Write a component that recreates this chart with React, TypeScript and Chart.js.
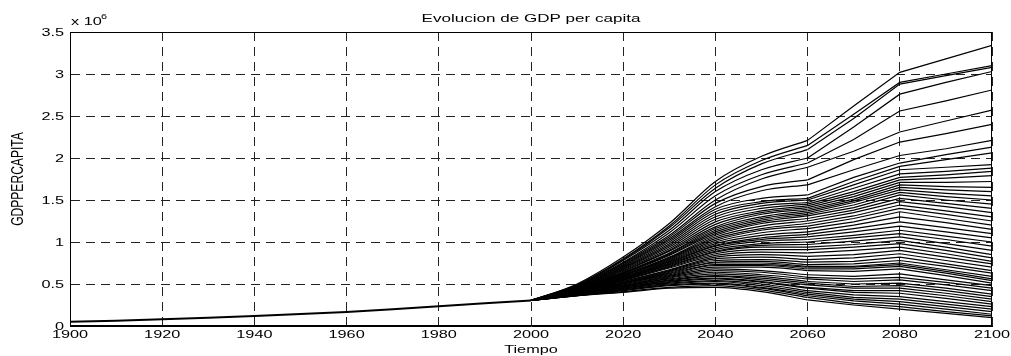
import React, { useEffect, useRef } from "react";
import { Chart, registerables } from "chart.js";

Chart.register(...registerables);

// ---------- data (GDP per capita, in millions) ----------
const histYears = [1900, 1910, 1920, 1930, 1940, 1950, 1960, 1970, 1980, 1990, 2000];
const histGdp = [0.05, 0.062, 0.08, 0.098, 0.12, 0.143, 0.168, 0.198, 0.235, 0.27, 0.305];

const projYears = [2000, 2010, 2020, 2030, 2040, 2050, 2060, 2070, 2080, 2090, 2100];

const upperPaths = [
  [0.305, 0.50, 0.82, 1.22, 1.72, 2.02, 2.21, 2.62, 3.02, 3.18, 3.34],
  [0.305, 0.49, 0.80, 1.19, 1.68, 1.97, 2.15, 2.52, 2.90, 3.00, 3.10],
  [0.305, 0.49, 0.79, 1.17, 1.64, 1.93, 2.10, 2.47, 2.88, 2.98, 3.08],
  [0.305, 0.48, 0.78, 1.14, 1.60, 1.86, 2.00, 2.37, 2.76, 2.90, 3.03],
  [0.305, 0.48, 0.76, 1.11, 1.55, 1.80, 1.94, 2.22, 2.56, 2.68, 2.81],
  [0.305, 0.47, 0.75, 1.08, 1.50, 1.75, 1.89, 2.08, 2.31, 2.44, 2.57],
  [0.305, 0.47, 0.74, 1.06, 1.46, 1.66, 1.74, 1.98, 2.19, 2.29, 2.40],
  [0.305, 0.46, 0.73, 1.04, 1.42, 1.61, 1.68, 1.86, 2.03, 2.11, 2.21],
  [0.305, 0.46, 0.72, 1.02, 1.39, 1.52, 1.56, 1.77, 1.94, 2.04, 2.13],
  [0.305, 0.46, 0.71, 1.00, 1.36, 1.48, 1.52, 1.72, 1.90, 1.98, 2.06],
  [0.305, 0.45, 0.70, 0.98, 1.33, 1.46, 1.50, 1.68, 1.86, 1.89, 1.92],
  [0.305, 0.45, 0.69, 0.96, 1.30, 1.43, 1.47, 1.64, 1.81, 1.84, 1.88],
];

const middlePaths = [
  [0.305, 0.45, 0.68, 0.94, 1.27, 1.40, 1.45, 1.60, 1.77, 1.80, 1.84],
  [0.305, 0.44, 0.67, 0.92, 1.24, 1.37, 1.43, 1.57, 1.74, 1.76, 1.79],
  [0.305, 0.44, 0.66, 0.90, 1.21, 1.35, 1.41, 1.54, 1.71, 1.71, 1.72],
  [0.305, 0.44, 0.65, 0.89, 1.18, 1.33, 1.39, 1.51, 1.68, 1.66, 1.65],
  [0.305, 0.44, 0.64, 0.87, 1.16, 1.30, 1.37, 1.49, 1.65, 1.62, 1.60],
  [0.305, 0.43, 0.63, 0.86, 1.14, 1.28, 1.35, 1.47, 1.62, 1.58, 1.55],
  [0.305, 0.43, 0.63, 0.85, 1.12, 1.26, 1.33, 1.44, 1.59, 1.54, 1.50],
  [0.305, 0.43, 0.62, 0.84, 1.10, 1.24, 1.31, 1.41, 1.56, 1.50, 1.45],
  [0.305, 0.43, 0.61, 0.82, 1.08, 1.22, 1.28, 1.38, 1.52, 1.46, 1.40],
  [0.305, 0.43, 0.61, 0.81, 1.06, 1.19, 1.25, 1.35, 1.48, 1.42, 1.35],
  [0.305, 0.42, 0.60, 0.80, 1.04, 1.16, 1.22, 1.31, 1.44, 1.37, 1.30],
  [0.305, 0.42, 0.60, 0.79, 1.02, 1.14, 1.19, 1.28, 1.40, 1.33, 1.25],
  [0.305, 0.42, 0.59, 0.78, 1.00, 1.11, 1.16, 1.24, 1.36, 1.28, 1.20],
  [0.305, 0.42, 0.58, 0.77, 0.98, 1.08, 1.12, 1.20, 1.30, 1.23, 1.15],
  [0.305, 0.42, 0.58, 0.76, 0.96, 1.05, 1.09, 1.16, 1.24, 1.17, 1.10],
  [0.305, 0.41, 0.57, 0.75, 0.95, 1.03, 1.06, 1.12, 1.19, 1.12, 1.05],
  [0.305, 0.41, 0.57, 0.74, 0.93, 1.01, 1.03, 1.08, 1.14, 1.07, 1.00],
  [0.305, 0.41, 0.56, 0.73, 0.91, 0.98, 1.00, 1.05, 1.10, 1.03, 0.95],
  [0.305, 0.41, 0.56, 0.72, 0.89, 0.96, 0.97, 1.01, 1.06, 0.98, 0.90],
  [0.305, 0.41, 0.55, 0.71, 0.88, 0.94, 0.94, 0.97, 1.02, 0.94, 0.85],
  [0.305, 0.40, 0.55, 0.70, 0.86, 0.91, 0.91, 0.94, 0.98, 0.90, 0.81],
  [0.305, 0.40, 0.54, 0.69, 0.84, 0.88, 0.87, 0.90, 0.94, 0.86, 0.77],
];

const lowerPaths = [
  [0.305, 0.40, 0.53, 0.67, 0.82, 0.85, 0.83, 0.85, 0.90, 0.82, 0.74],
  [0.305, 0.40, 0.53, 0.66, 0.80, 0.82, 0.79, 0.81, 0.86, 0.78, 0.70],
  [0.305, 0.40, 0.52, 0.65, 0.78, 0.79, 0.76, 0.77, 0.82, 0.74, 0.66],
  [0.305, 0.39, 0.51, 0.64, 0.76, 0.77, 0.73, 0.74, 0.78, 0.71, 0.63],
  [0.305, 0.39, 0.51, 0.63, 0.75, 0.75, 0.71, 0.71, 0.75, 0.67, 0.59],
  [0.305, 0.39, 0.50, 0.62, 0.73, 0.73, 0.70, 0.70, 0.73, 0.65, 0.56],
  [0.305, 0.39, 0.50, 0.61, 0.72, 0.72, 0.68, 0.68, 0.71, 0.63, 0.54],
  [0.305, 0.39, 0.49, 0.60, 0.70, 0.70, 0.66, 0.65, 0.68, 0.60, 0.51],
  [0.305, 0.38, 0.48, 0.59, 0.68, 0.66, 0.61, 0.59, 0.62, 0.55, 0.48],
  [0.305, 0.38, 0.48, 0.58, 0.66, 0.64, 0.58, 0.56, 0.58, 0.52, 0.45],
  [0.305, 0.38, 0.47, 0.57, 0.64, 0.61, 0.56, 0.53, 0.55, 0.49, 0.42],
  [0.305, 0.38, 0.47, 0.56, 0.62, 0.59, 0.53, 0.50, 0.51, 0.45, 0.38],
  [0.305, 0.38, 0.46, 0.55, 0.60, 0.57, 0.51, 0.47, 0.48, 0.42, 0.35],
  [0.305, 0.37, 0.46, 0.54, 0.59, 0.55, 0.49, 0.45, 0.45, 0.39, 0.32],
  [0.305, 0.37, 0.45, 0.53, 0.57, 0.53, 0.46, 0.42, 0.42, 0.36, 0.29],
  [0.305, 0.37, 0.45, 0.52, 0.56, 0.52, 0.45, 0.40, 0.39, 0.33, 0.26],
  [0.305, 0.37, 0.44, 0.51, 0.54, 0.50, 0.42, 0.37, 0.35, 0.29, 0.23],
  [0.305, 0.37, 0.43, 0.50, 0.53, 0.48, 0.40, 0.34, 0.32, 0.26, 0.20],
  [0.305, 0.36, 0.43, 0.49, 0.51, 0.46, 0.38, 0.32, 0.29, 0.23, 0.17],
  [0.305, 0.36, 0.42, 0.48, 0.50, 0.45, 0.36, 0.30, 0.26, 0.20, 0.14],
  [0.305, 0.36, 0.41, 0.46, 0.48, 0.43, 0.34, 0.27, 0.23, 0.17, 0.12],
  [0.305, 0.36, 0.40, 0.45, 0.46, 0.41, 0.31, 0.25, 0.20, 0.15, 0.10],
];

const xTickValues = [1900, 1920, 1940, 1960, 1980, 2000, 2020, 2040, 2060, 2080, 2100];
const xTickLabels = ["1900", "1920", "1940", "1960", "1980", "2000", "2020", "2040", "2060", "2080", "2100"];
const yTickValues = [0, 0.5, 1, 1.5, 2, 2.5, 3, 3.5];
const yTickLabels = ["0", "0.5", "1", "1.5", "2", "2.5", "3", "3.5"];

const titleText = "Evolucion de GDP per capita";
const xLabel = "Tiempo";
const yLabel = "GDPPERCAPITA";

// ---------- styling ----------
const FAMILY = '"Liberation Sans", Arial, Helvetica, sans-serif';
const SX = 1.55; // horizontal stretch of the lettering

const matlabText = {
  id: "matlabText",
  afterDraw(chart: any) {
    const { ctx, chartArea: a, scales } = chart;
    const x = scales.x;
    const y = scales.y;
    ctx.save();
    // box
    ctx.setLineDash([]);
    ctx.strokeStyle = "#000";
    ctx.lineWidth = 1;
    const L = Math.round(a.left) + 0.5;
    const T = Math.round(a.top) + 0.5;
    const R = Math.round(a.right) - 0.5;
    const B = Math.round(a.bottom) - 0.5;
    ctx.strokeRect(L, T, R - L, B - T);

    ctx.fillStyle = "#000";
    const draw = (text: string, px: number, py: number, size: number, align: CanvasTextAlign) => {
      ctx.save();
      ctx.translate(px, py);
      ctx.scale(SX, 1);
      ctx.font = `${size}px ${FAMILY}`;
      ctx.textAlign = align;
      ctx.textBaseline = "alphabetic";
      ctx.fillText(text, 0, 0);
      ctx.restore();
    };
    xTickValues.forEach((v, i) => {
      draw(xTickLabels[i], x.getPixelForValue(v), a.bottom + 12, 10.5, "center");
    });
    yTickValues.forEach((v, i) => {
      draw(yTickLabels[i], a.left - 6, y.getPixelForValue(v) + 3.8, 10.5, "right");
    });
    // title
    draw(titleText, (a.left + a.right) / 2, 22, 11, "center");
    // x label
    draw(xLabel, (a.left + a.right) / 2, 353, 10.5, "center");
    // exponent
    draw("x 10", a.left + 1, 25, 10.5, "left");
    draw("6", a.left + 31, 18.5, 7, "left");
    // y label (rotated)
    ctx.save();
    ctx.translate(23, (a.top + a.bottom) / 2);
    ctx.scale(SX, 1.15);
    ctx.rotate(-Math.PI / 2);
    ctx.font = `10.5px ${FAMILY}`;
    ctx.textAlign = "center";
    ctx.textBaseline = "alphabetic";
    ctx.fillText(yLabel, 0, 0);
    ctx.restore();
    ctx.restore();
  },
};

export default function App() {
  const ref = useRef<HTMLCanvasElement | null>(null);

  useEffect(() => {
    if (!ref.current) return;
    const allPaths = [...upperPaths, ...middlePaths, ...lowerPaths];
    const datasets: any[] = [];
    allPaths.forEach((p) => {
      datasets.push({
        data: projYears.slice(0, 7).map((yr, i) => ({ x: yr, y: p[i] })),
        borderColor: "#000",
        borderWidth: 1.2,
        pointRadius: 0,
        cubicInterpolationMode: "monotone",
        fill: false,
      });
      datasets.push({
        data: projYears.slice(6).map((yr, i) => ({ x: yr, y: p[i + 6] })),
        borderColor: "#000",
        borderWidth: 1.2,
        pointRadius: 0,
        tension: 0,
        fill: false,
      });
    });
    datasets.push({
      data: histYears.map((yr, i) => ({ x: yr, y: histGdp[i] })),
      borderColor: "#000",
      borderWidth: 2,
      pointRadius: 0,
      tension: 0,
      fill: false,
    });

    const chart = new Chart(ref.current, {
      type: "line",
      data: { datasets },
      options: {
        responsive: false,
        animation: false,
        devicePixelRatio: 1,
        layout: { padding: { top: 32, right: 19, bottom: 0, left: 0 } },
        plugins: {
          legend: { display: false },
          tooltip: { enabled: false },
          title: { display: false },
        },
        scales: {
          x: {
            type: "linear",
            min: 1900,
            max: 2100,
            afterFit: (s: any) => {
              s.height = 30;
            },
            afterBuildTicks: (s: any) => {
              s.ticks = xTickValues.map((v) => ({ value: v }));
            },
            ticks: { display: false },
            grid: { color: "#222", lineWidth: 1, drawTicks: false },
            border: { display: true, color: "#000", dash: [9, 6] },
          },
          y: {
            type: "linear",
            min: 0,
            max: 3.5,
            afterFit: (s: any) => {
              s.width = 70;
            },
            afterBuildTicks: (s: any) => {
              s.ticks = yTickValues.map((v) => ({ value: v }));
            },
            ticks: { display: false },
            grid: { color: "#222", lineWidth: 1, drawTicks: false },
            border: { display: true, color: "#000", dash: [9, 6] },
          },
        },
      },
      plugins: [matlabText],
    } as any);
    return () => chart.destroy();
  }, []);

  return (
    <div style={{ position: "absolute", left: 0, top: 0, width: 1011, height: 356, background: "#fff" }}>
      <canvas ref={ref} width={1011} height={356} style={{ display: "block" }} />
    </div>
  );
}
